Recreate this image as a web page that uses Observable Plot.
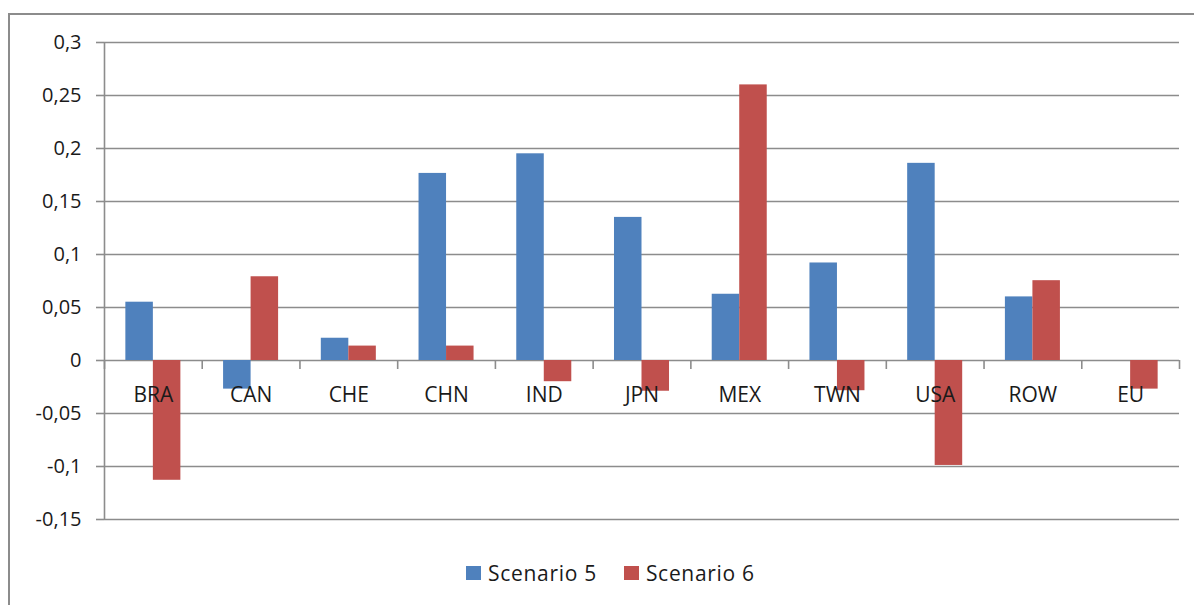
<!DOCTYPE html>
<html>
<head>
<meta charset="utf-8">
<script src="https://cdn.jsdelivr.net/npm/d3@7"></script>
<script src="https://cdn.jsdelivr.net/npm/@observablehq/plot@0.6"></script>
<style>
  html, body { margin: 0; padding: 0; background: #fff; }
  #wrap { position: relative; width: 1194px; height: 605px; overflow: hidden; font-family: "Open Sans", sans-serif; color: #1a1a1a; }
  #border { position: absolute; left: 8px; top: 13px; width: 1200px; height: 620px; border-top: 2px solid #8c8c8c; border-left: 2px solid #8c8c8c; box-sizing: border-box; }
  #chart { position: absolute; left: 0; top: 0; }
  #legend { position: absolute; left: 466px; top: 559px; display: flex; align-items: center; font-size: 21px; letter-spacing: 0.7px; }
  .item { display: flex; align-items: center; }
  .sw { width: 15px; height: 14px; margin-right: 7px; }
</style>
</head>
<body>
<div id="wrap">
  <div id="border"></div>
  <div id="chart"></div>
  <div id="legend"></div>
</div>
<script>
const countries = ["BRA", "CAN", "CHE", "CHN", "IND", "JPN", "MEX", "TWN", "USA", "ROW", "EU"];
const scenario5 = [0.055, -0.027, 0.021, 0.1765, 0.195, 0.135, 0.0625, 0.092, 0.186, 0.060, 0];
const scenario6 = [-0.113, 0.079, 0.0136, 0.0136, -0.020, -0.029, 0.260, -0.0285, -0.099, 0.0753, -0.027];
const seriesNames = ["Scenario 5", "Scenario 6"];
const seriesColors = ["#4F81BD", "#C0504D"];
const yTicks = [0.3, 0.25, 0.2, 0.15, 0.1, 0.05, 0, -0.05, -0.1, -0.15];
const yTickLabels = ["0,3", "0,25", "0,2", "0,15", "0,1", "0,05", "0", "-0,05", "-0,1", "-0,15"];

const W = 1194, H = 540;
const mL = 104, mR = 15, mT = 42, mB = 21;
const step = (W - mL - mR) / countries.length;
const barW = step * 0.2815;
const gridColor = "#8c8c8c";

const d5 = countries.map((c, i) => ({country: c, value: scenario5[i]}));
const d6 = countries.map((c, i) => ({country: c, value: scenario6[i]}));
const boundaries = countries.map((c, i) => ({country: c, side: -1})).concat([{country: countries[countries.length - 1], side: 1}]);

const chart = Plot.plot({
  width: W,
  height: H,
  marginLeft: mL,
  marginRight: mR,
  marginTop: mT,
  marginBottom: mB,
  style: {fontFamily: "Open Sans, sans-serif", fontSize: "20px", color: "#1a1a1a", background: "transparent"},
  x: {type: "band", domain: countries, padding: 0, round: false, axis: null},
  y: {domain: [-0.15, 0.3], axis: null, label: null},
  marks: [
    Plot.ruleY(yTicks, {stroke: gridColor, strokeWidth: 1.6}),
    Plot.barY(d5, {x: "country", y: "value", fill: seriesColors[0], insetLeft: step / 2 - barW, insetRight: step / 2}),
    Plot.barY(d6, {x: "country", y: "value", fill: seriesColors[1], insetLeft: step / 2, insetRight: step / 2 - barW}),
    Plot.axisY({ticks: yTicks, label: null, tickFormat: d => yTickLabels[yTicks.indexOf(d)], tickSize: 8, tickPadding: 15, stroke: gridColor, strokeWidth: 1.6, fill: "#1a1a1a", fontSize: 20}),
    Plot.ruleX(boundaries.filter(b => b.side < 0), {x: "country", dx: -step / 2, y1: 0, y2: -0.0085, stroke: gridColor, strokeWidth: 1.6}),
    Plot.ruleX(boundaries.filter(b => b.side > 0), {x: "country", dx: step / 2, y1: 0, y2: -0.0085, stroke: gridColor, strokeWidth: 1.6}),
    Plot.ruleX(boundaries.filter(b => b.side < 0 && b.country === countries[0]), {x: "country", dx: -step / 2, y1: -0.15, y2: 0.3, stroke: gridColor, strokeWidth: 1.6}),
    Plot.text(countries, {x: d => d, y: 0, dy: 35, text: d => d, fill: "#1a1a1a", fontSize: 21})
  ]
});
document.getElementById("chart").appendChild(chart);

const legend = document.getElementById("legend");
seriesNames.forEach((name, i) => {
  const item = document.createElement("div");
  item.className = "item";
  if (i > 0) item.style.marginLeft = "27px";
  const sw = document.createElement("div");
  sw.className = "sw";
  sw.style.background = seriesColors[i];
  const label = document.createElement("span");
  label.textContent = name;
  item.appendChild(sw);
  item.appendChild(label);
  legend.appendChild(item);
});
</script>
</body>
</html>
